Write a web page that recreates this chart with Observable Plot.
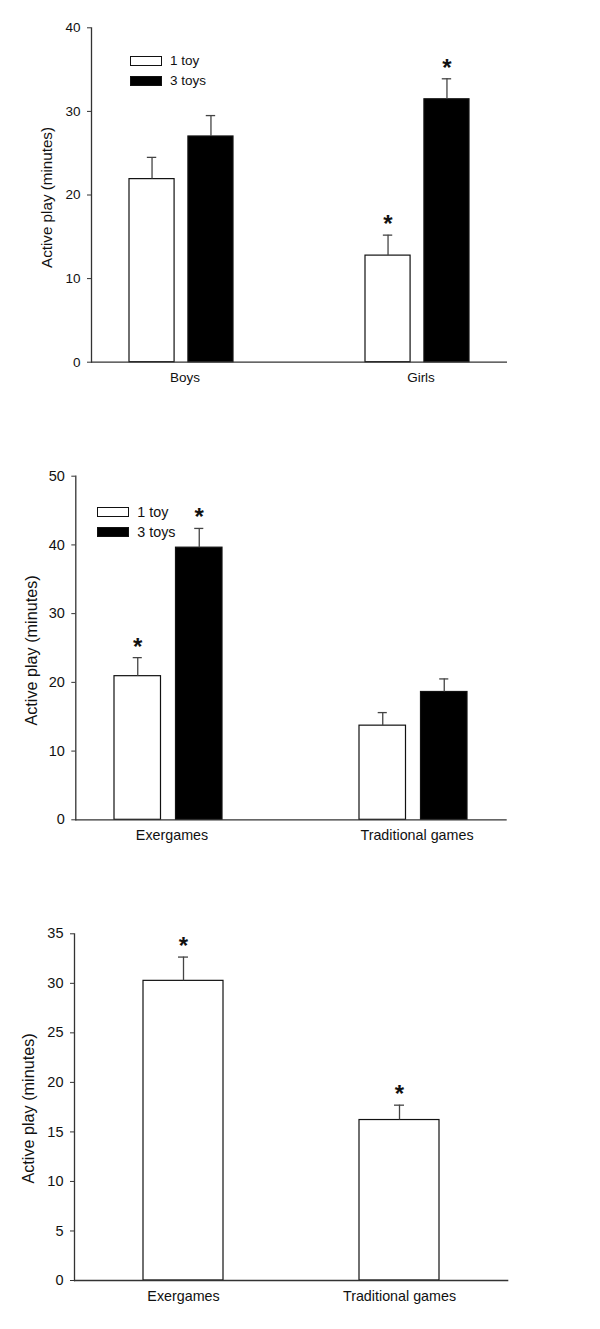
<!DOCTYPE html>
<html>
<head>
<meta charset="utf-8">
<script src="https://cdn.jsdelivr.net/npm/d3@7"></script>
<script src="https://cdn.jsdelivr.net/npm/@observablehq/plot@0.6"></script>
<style>
  body { margin: 0; background: #fff; font-family: "Liberation Sans", Arial, sans-serif; }
  .panel { position: relative; width: 600px; }
  .panel svg { display: block; }
  .legend-row { position: absolute; display: flex; align-items: center; color: #111; white-space: nowrap; }
  .swatch { box-sizing: border-box; border: 1.2px solid #111; }
</style>
</head>
<body>
<div id="root"></div>
<script>
// ---------- data ----------
const toys = ["1 toy", "3 toys"];
const yLabel = "Active play (minutes)";

// Panel 1: by sex
const sexGroups = ["Boys", "Girls"];
const sexMean1Toy = [21.9, 12.75];
const sexSE1Toy = [2.6, 2.45];
const sexSig1Toy = [false, true];
const sexMean3Toys = [27.0, 31.45];
const sexSE3Toys = [2.5, 2.45];
const sexSig3Toys = [false, true];
const yTicks1 = [0, 10, 20, 30, 40];

// Panel 2: by game type
const gameGroups = ["Exergames", "Traditional games"];
const gameMean1Toy = [20.9, 13.7];
const gameSE1Toy = [2.7, 1.9];
const gameSig1Toy = [true, false];
const gameMean3Toys = [39.6, 18.6];
const gameSE3Toys = [2.8, 1.9];
const gameSig3Toys = [true, false];
const yTicks2 = [0, 10, 20, 30, 40, 50];

// Panel 3: overall by game type
const overallMean = [30.25, 16.2];
const overallSE = [2.4, 1.5];
const overallSig = [true, true];
const yTicks3 = [0, 5, 10, 15, 20, 25, 30, 35];

// ---------- helpers ----------
function rowsFor(groups, toy, means, ses, sigs) {
  return groups.map((g, i) => ({group: g, toy, mean: means[i], se: ses[i], sig: sigs[i]}));
}

const FONT = "'Liberation Sans', Arial, sans-serif";
const AXIS = "#333";
const INK = "#111";

function makePanel(cfg) {
  const W = 600;
  const bw = d3.scaleBand().domain(cfg.groups)
    .range([cfg.ml, W - cfg.mr]).paddingInner(cfg.pi).paddingOuter(cfg.po).bandwidth();
  const marks = [];
  cfg.series.forEach((s) => {
    const off = cfg.series.length > 1 ? (bw - cfg.barW) / 2 : 0;
    const dx = s.side === "left" ? -off : s.side === "right" ? off : 0;
    const inset = bw - cfg.barW;
    marks.push(Plot.barY(s.rows, {
      x: "group", y: "mean", fill: s.fill, stroke: INK, strokeWidth: 1.2,
      insetLeft: s.side === "right" ? inset : 0,
      insetRight: s.side === "left" ? inset : 0
    }));
    marks.push(Plot.ruleX(s.rows, {
      x: "group", y1: "mean", y2: d => d.mean + d.se, dx, stroke: "#444", strokeWidth: 1.3
    }));
    marks.push(Plot.tickY(s.rows, {
      x: "group", y: d => d.mean + d.se, dx,
      insetLeft: (bw - cfg.capW) / 2, insetRight: (bw - cfg.capW) / 2,
      stroke: "#444", strokeWidth: 1.3
    }));
    marks.push(Plot.text(s.rows.filter(d => d.sig), {
      x: "group", y: d => d.mean + d.se, text: () => "*", dx, dy: cfg.starDy,
      lineAnchor: "bottom", fontSize: cfg.starSize, fontWeight: "bold", fill: INK
    }));
  });
  marks.push(Plot.frame({anchor: "left", stroke: AXIS, strokeWidth: 1.3}));
  marks.push(Plot.ruleY([0], {stroke: AXIS, strokeWidth: 1.3}));
  marks.push(Plot.axisY({ticks: cfg.yTicks, tickSize: 4, tickPadding: 7, label: null,
    stroke: AXIS, fontSize: cfg.tickSize}));
  marks.push(Plot.axisX({tickSize: 0, tickPadding: 10, label: null, dx: cfg.xLabelDx,
    fontSize: cfg.catSize}));
  marks.push(Plot.text([yLabel], {text: d => d, frameAnchor: "left", rotate: -90,
    textAnchor: "middle", lineAnchor: "middle",
    dx: cfg.labelDx, dy: cfg.labelDy, fontSize: cfg.labelSize, fill: INK}));

  const svg = Plot.plot({
    width: W,
    height: cfg.height,
    marginLeft: cfg.ml, marginRight: cfg.mr, marginTop: cfg.mt, marginBottom: cfg.mb,
    style: {fontFamily: FONT, fontSize: cfg.tickSize + "px", color: INK, background: "white", overflow: "visible"},
    x: {domain: cfg.groups, paddingInner: cfg.pi, paddingOuter: cfg.po},
    y: {domain: cfg.yDomain},
    marks
  });

  const wrap = document.createElement("div");
  wrap.className = "panel";
  wrap.style.height = cfg.height + "px";
  wrap.appendChild(svg);
  if (cfg.legend) {
    const L = cfg.legend;
    toys.forEach((t, i) => {
      const row = document.createElement("div");
      row.className = "legend-row";
      row.style.left = L.x + "px";
      row.style.top = (L.y + i * L.step) + "px";
      row.style.height = L.h + "px";
      row.style.fontSize = L.fontSize + "px";
      const sw = document.createElement("div");
      sw.className = "swatch";
      sw.style.width = L.w + "px";
      sw.style.height = L.h + "px";
      sw.style.background = i === 0 ? "#fff" : "#000";
      const tx = document.createElement("span");
      tx.textContent = t;
      tx.style.marginLeft = L.gap + "px";
      row.appendChild(sw);
      row.appendChild(tx);
      wrap.appendChild(row);
    });
  }
  return wrap;
}

const root = document.getElementById("root");

root.appendChild(makePanel({
  groups: sexGroups,
  series: [
    {rows: rowsFor(sexGroups, toys[0], sexMean1Toy, sexSE1Toy, sexSig1Toy), fill: "#fff", side: "left"},
    {rows: rowsFor(sexGroups, toys[1], sexMean3Toys, sexSE3Toys, sexSig3Toys), fill: "#000", side: "right"}
  ],
  yDomain: [0, 40], yTicks: yTicks1,
  height: 440, ml: 91, mr: 93, mt: 27.3, mb: 78.3,
  pi: 0.56, po: 0.159, barW: 45.2, capW: 9.5,
  tickSize: 13.5, catSize: 13.5, labelSize: 15.2, labelDx: -44, labelDy: 2.5, xLabelDx: 3.5,
  starSize: 24, starDy: -3,
  legend: {x: 130, y: 56, step: 20, w: 32, h: 9.5, gap: 8, fontSize: 13.5}
}));

root.appendChild(makePanel({
  groups: gameGroups,
  series: [
    {rows: rowsFor(gameGroups, toys[0], gameMean1Toy, gameSE1Toy, gameSig1Toy), fill: "#fff", side: "left"},
    {rows: rowsFor(gameGroups, toys[1], gameMean3Toys, gameSE3Toys, gameSig3Toys), fill: "#000", side: "right"}
  ],
  yDomain: [0, 50], yTicks: yTicks2,
  height: 450, ml: 75.3, mr: 93.3, mt: 35.7, mb: 70.7,
  pi: 0.559, po: 0.157, barW: 46.9, capW: 9.5,
  tickSize: 14.5, catSize: 14.3, labelSize: 16.2, labelDx: -43.6, labelDy: 2.5, xLabelDx: 3.5,
  starSize: 24, starDy: -3,
  legend: {x: 96.7, y: 66.7, step: 20.6, w: 32.6, h: 10, gap: 8, fontSize: 14.3}
}));

root.appendChild(makePanel({
  groups: gameGroups,
  series: [
    {rows: rowsFor(gameGroups, "all", overallMean, overallSE, overallSig), fill: "#fff", side: "center"}
  ],
  yDomain: [0, 35], yTicks: yTicks3,
  height: 439, ml: 74, mr: 91.7, mt: 43.3, mb: 49,
  pi: 0.631, po: 0.317, barW: 80, capW: 10,
  tickSize: 14.5, catSize: 14.3, labelSize: 16.2, labelDx: -45.7, labelDy: 1.3, xLabelDx: 0,
  starSize: 24, starDy: -3,
  legend: null
}));
</script>
</body>
</html>
